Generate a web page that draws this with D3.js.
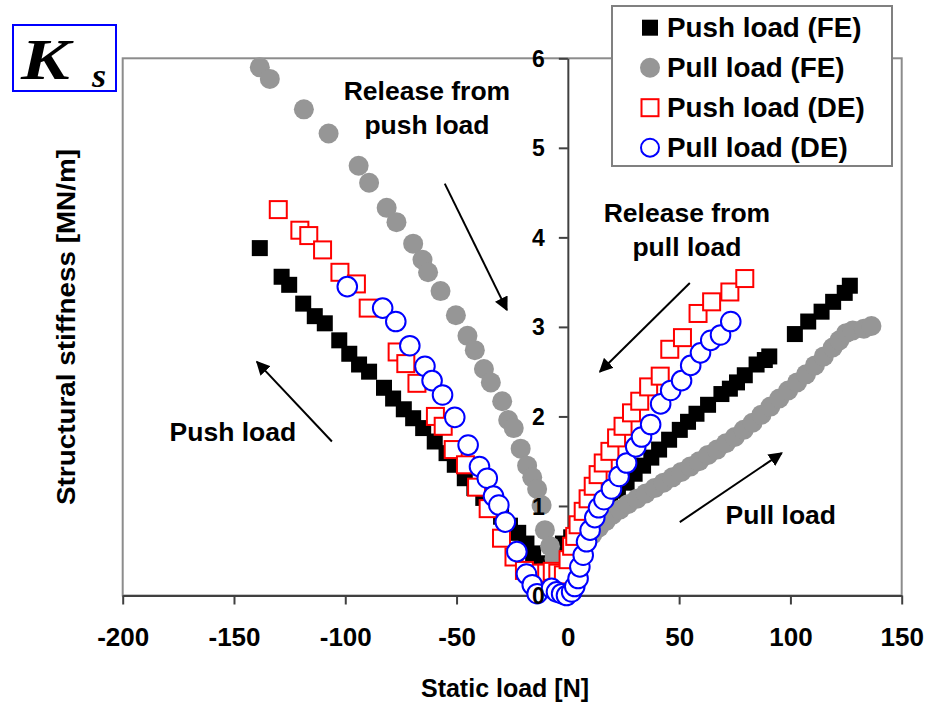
<!DOCTYPE html>
<html>
<head>
<meta charset="utf-8">
<script src="https://cdn.jsdelivr.net/npm/d3@7"></script>
<style>
  html, body { margin: 0; padding: 0; background: #fff; }
  svg { display: block; }
  text { font-family: "Liberation Sans", Arial, sans-serif; font-weight: bold; fill: #000; }
</style>
</head>
<body>
<svg id="chart" width="928" height="704"></svg>
<script>
// ---- Data: static load [N] vs structural stiffness [MN/m] ----
const seriesNames = ["Push load (FE)", "Pull load (FE)", "Push load (DE)", "Pull load (DE)"];

const pushFE_load = [-138.4, -128.6, -125.2, -118.9, -113.7, -109.2, -102.7, -98.2, -93.8, -89.3,
  -82.6, -78.5, -73.7, -69.5, -65.0, -59.8, -54.5, -50.8, -46.3, -42.0, -38.0, -34.0, -30.0, -26.0,
  -22.3, -18.6, -15.6, -12.6, -9.5, -6.5,
  -2.2, 1.5, 5.0, 8.5, 12.0, 15.5, 19.0, 22.5, 26.4, 30.0, 33.8, 37.5, 41.0, 45.5, 50.3, 54.0, 57.8,
  63.0, 69.0, 72.8, 76.0, 79.5, 84.8, 88.5, 90.5, 102.0, 108.0, 114.0, 119.2, 124.4, 126.7];
const pushFE_stiff = [3.88, 3.56, 3.47, 3.26, 3.12, 3.04, 2.85, 2.70, 2.58, 2.50,
  2.32, 2.20, 2.08, 1.98, 1.87, 1.72, 1.59, 1.46, 1.31, 1.20, 1.09, 0.98, 0.88, 0.78,
  0.70, 0.58, 0.47, 0.36, 0.28, 0.21,
  0.58, 0.65, 0.73, 0.82, 0.91, 1.00, 1.09, 1.17, 1.26, 1.36, 1.45, 1.54, 1.63, 1.74, 1.85, 1.94, 2.03,
  2.13, 2.25, 2.31, 2.38, 2.46, 2.58, 2.63, 2.67, 2.92, 3.06, 3.17, 3.28, 3.38, 3.46];

const pullFE_load = [-138.4, -133.9, -118.6, -107.5, -94.0, -89.3, -81.4, -77.0, -69.5, -65.3,
  -62.8, -57.2, -50.3, -45.1, -41.8, -37.7, -34.6, -29.5, -26.8, -24.3, -21.2, -18.3, -16.0, -13.8,
  -11.8, -10.3, -8.0, -6.0, -4.5,
  -1.5, 1.0, 3.5, 6.0, 8.5, 11.0, 14.0, 17.0, 20.0, 23.5, 27.0, 31.0, 35.0, 39.0, 43.0, 47.0, 51.0,
  55.0, 59.0, 63.0, 67.0, 71.0, 75.0, 79.0, 83.0, 87.0, 91.0, 95.0, 99.0, 103.0, 107.0, 111.0, 115.0,
  119.0, 122.0, 125.0, 128.0, 133.0, 136.4];
const pullFE_stiff = [5.90, 5.77, 5.43, 5.16, 4.80, 4.61, 4.33, 4.17, 3.93, 3.75,
  3.61, 3.40, 3.13, 2.90, 2.74, 2.53, 2.38, 2.17, 1.96, 1.87, 1.64, 1.45, 1.32, 1.19,
  1.01, 0.73, 0.55, 0.41, 0.30,
  0.30, 0.36, 0.45, 0.53, 0.61, 0.68, 0.76, 0.83, 0.90, 0.96, 1.02, 1.08, 1.14, 1.20, 1.26, 1.32, 1.38,
  1.44, 1.50, 1.57, 1.63, 1.70, 1.77, 1.85, 1.93, 2.02, 2.11, 2.20, 2.29, 2.38, 2.47, 2.57, 2.67,
  2.77, 2.85, 2.93, 2.96, 2.98, 3.01];

const pushDE_load = [-130.1, -120.4, -116.4, -110.2, -102.4, -95.0, -89.7, -76.7, -72.8, -67.8,
  -59.5, -56.0, -51.5, -46.0, -41.0, -35.8, -29.8, -24.2, -19.5, -15.0, -12.0, -9.5, -7.0, -4.5, -2.0,
  0.1, 1.7, 3.1, 4.6, 6.9, 9.1, 11.4, 13.6, 15.9, 18.9, 21.9, 24.8, 28.6, 32.3, 36.3, 41.5, 45.8,
  51.5, 58.5, 64.6, 72.8, 79.5];
const pushDE_stiff = [4.31, 4.08, 4.02, 3.86, 3.61, 3.48, 3.21, 2.72, 2.59, 2.37,
  2.00, 1.89, 1.63, 1.46, 1.21, 0.97, 0.64, 0.43, 0.28, 0.23, 0.25, 0.25, 0.27, 0.25, 0.23,
  0.40, 0.55, 0.66, 0.79, 0.94, 1.08, 1.22, 1.35, 1.48, 1.61, 1.76, 1.89, 2.04, 2.17, 2.33, 2.45, 2.75,
  2.88, 3.15, 3.28, 3.39, 3.54];

const pullDE_load = [-99.1, -83.2, -77.3, -71.0, -64.2, -61.0, -56.3, -50.8, -44.8, -39.7,
  -36.2, -33.4, -31.0, -28.1, -22.9, -18.6, -16.0, -13.8,
  -7.3, -5.1, -2.8, -0.6, 1.7, 3.1,
  4.6, 5.4, 6.9, 8.4, 10.0, 12.1, 13.8, 16.2, 19.6, 23.0, 26.4, 30.5, 33.1, 37.2, 41.7, 46.2,
  51.1, 55.2, 59.6, 64.2, 68.6, 73.2];
const pullDE_stiff = [3.45, 3.21, 3.06, 2.79, 2.56, 2.40, 2.24, 1.99, 1.68, 1.44,
  1.31, 1.11, 1.01, 0.82, 0.49, 0.24, 0.12, 0.02,
  0.08, 0.04, 0.02, 0.00, 0.04, 0.10,
  0.19, 0.32, 0.45, 0.60, 0.73, 0.87, 0.98, 1.07, 1.19, 1.33, 1.48, 1.66, 1.77, 1.91, 2.14, 2.29,
  2.40, 2.57, 2.71, 2.85, 2.91, 3.06];

const xTicks = [-200, -150, -100, -50, 0, 50, 100, 150];
const yTicks = [0, 1, 2, 3, 4, 5, 6];

// Annotation texts and arrows, in data units
const notes = [
  { lines: ["Release from", "push load"], x: -63.3, y: [5.64, 5.26] },
  { lines: ["Release from", "pull load"], x: 53.5, y: [4.28, 3.89] },
  { lines: ["Push load"], x: -150.5, y: [1.83] },
  { lines: ["Pull load"], x: 95.7, y: [0.90] }
];
const arrows = [
  { x1: -55.3, y1: 4.60, x2: -27.4, y2: 3.19 },
  { x1: 54.8, y1: 3.49, x2: 14.4, y2: 2.50 },
  { x1: -106.0, y1: 1.72, x2: -139.7, y2: 2.61 },
  { x1: 50.3, y1: 0.82, x2: 96.1, y2: 1.59 }
];

// ---- Chart ----
const svg = d3.select("#chart");
const x = d3.scaleLinear().domain([-200, 150]).range([122.7, 901.7]);
const y = d3.scaleLinear().domain([0, 6]).range([595.5, 58.3]);

const axisColor = "#404040";
const frameColor = "#8c8c8c";
const hyphenFormat = d => String(d);   // plain hyphen-minus for negative loads

// plot frame
svg.append("rect")
  .attr("x", x(-200)).attr("y", y(6))
  .attr("width", x(150) - x(-200)).attr("height", y(0) - y(6))
  .attr("fill", "none").attr("stroke", frameColor).attr("stroke-width", 2);

// axis lines and ticks (labels are drawn later on top of the markers)
const xAxisG = svg.append("g")
  .attr("transform", `translate(0,${y(0)})`)
  .call(d3.axisBottom(x).tickValues(xTicks).tickSize(9).tickSizeOuter(0).tickFormat(""));
const yAxisG = svg.append("g")
  .attr("transform", `translate(${x(0)},0)`)
  .call(d3.axisLeft(y).tickValues(yTicks).tickSize(9).tickSizeOuter(0).tickFormat(""));
[xAxisG, yAxisG].forEach(g => {
  g.selectAll("path, line").attr("stroke", axisColor).attr("stroke-width", 2);
});

const zip = (xs, ys) => xs.map((v, i) => ({ x: v, y: ys[i] }));

// Push load (FE): filled black squares
svg.append("g").selectAll("rect").data(zip(pushFE_load, pushFE_stiff)).join("rect")
  .attr("x", d => x(d.x) - 8).attr("y", d => y(d.y) - 8)
  .attr("width", 16).attr("height", 16).attr("fill", "#000");

// Pull load (FE): filled grey circles
svg.append("g").selectAll("circle").data(zip(pullFE_load, pullFE_stiff)).join("circle")
  .attr("cx", d => x(d.x)).attr("cy", d => y(d.y)).attr("r", 10).attr("fill", "#969696");

// Push load (DE): open red squares
svg.append("g").selectAll("rect").data(zip(pushDE_load, pushDE_stiff)).join("rect")
  .attr("x", d => x(d.x) - 8.5).attr("y", d => y(d.y) - 8.5)
  .attr("width", 17).attr("height", 17)
  .attr("fill", "#fff").attr("stroke", "#ff0000").attr("stroke-width", 2);

// Pull load (DE): open blue circles
svg.append("g").selectAll("circle").data(zip(pullDE_load, pullDE_stiff)).join("circle")
  .attr("cx", d => x(d.x)).attr("cy", d => y(d.y)).attr("r", 9.8)
  .attr("fill", "#fff").attr("stroke", "#0000ff").attr("stroke-width", 2);

// tick labels
svg.append("g")
  .attr("transform", `translate(0,${y(0)})`)
  .call(d3.axisBottom(x).tickValues(xTicks).tickSize(0).tickPadding(41).tickFormat(hyphenFormat))
  .call(g => g.select(".domain").remove())
  .selectAll("text").attr("font-size", 26).attr("font-family", "Liberation Sans, Arial, sans-serif")
  .attr("font-weight", "bold").attr("fill", "#000").attr("dy", "0.35em");
svg.append("g")
  .attr("transform", `translate(${x(0)},0)`)
  .call(d3.axisLeft(y).tickValues(yTicks).tickSize(0).tickPadding(23).tickFormat(hyphenFormat))
  .call(g => g.select(".domain").remove())
  .selectAll("text").attr("font-size", 23).attr("font-family", "Liberation Sans, Arial, sans-serif")
  .attr("font-weight", "bold").attr("fill", "#000").attr("dy", "0.35em");

// axis titles
svg.append("text").attr("x", 505).attr("y", 688).attr("dy", "0.35em")
  .attr("text-anchor", "middle").attr("font-size", 25).text("Static load [N]");
svg.append("text")
  .attr("transform", "translate(66,327) rotate(-90)")
  .attr("dy", "0.35em").attr("text-anchor", "middle").attr("font-size", 26.5)
  .attr("textLength", 356).attr("lengthAdjust", "spacingAndGlyphs")
  .text("Structural stiffness [MN/m]");

// annotations
const markerId = "arrowhead";
svg.append("defs").append("marker")
  .attr("id", markerId).attr("viewBox", "0 0 10 10")
  .attr("refX", 9).attr("refY", 5)
  .attr("markerWidth", 7).attr("markerHeight", 7)
  .attr("markerUnits", "strokeWidth").attr("orient", "auto")
  .append("path").attr("d", "M0,0 L10,5 L0,10 Z").attr("fill", "#000");

svg.append("g").selectAll("line").data(arrows).join("line")
  .attr("x1", d => x(d.x1)).attr("y1", d => y(d.y1))
  .attr("x2", d => x(d.x2)).attr("y2", d => y(d.y2))
  .attr("stroke", "#000").attr("stroke-width", 2)
  .attr("marker-end", `url(#${markerId})`);

notes.forEach(n => {
  n.lines.forEach((t, i) => {
    svg.append("text").attr("x", x(n.x)).attr("y", y(n.y[i])).attr("dy", "0.35em")
      .attr("text-anchor", "middle").attr("font-size", 26.5).text(t);
  });
});

// legend
const legend = svg.append("g");
legend.append("rect").attr("x", 612).attr("y", 6).attr("width", 280).attr("height", 160)
  .attr("fill", "#fff").attr("stroke", "#808080").attr("stroke-width", 2);
seriesNames.forEach((name, i) => {
  const cy = 27.7 + i * 40;
  const g = legend.append("g");
  if (i === 0) g.append("rect").attr("x", 642).attr("y", cy - 8).attr("width", 16).attr("height", 16).attr("fill", "#000");
  if (i === 1) g.append("circle").attr("cx", 650).attr("cy", cy).attr("r", 10).attr("fill", "#969696");
  if (i === 2) g.append("rect").attr("x", 641.5).attr("y", cy - 8.5).attr("width", 17).attr("height", 17)
    .attr("fill", "#fff").attr("stroke", "#ff0000").attr("stroke-width", 2);
  if (i === 3) g.append("circle").attr("cx", 650).attr("cy", cy).attr("r", 9)
    .attr("fill", "#fff").attr("stroke", "#0000ff").attr("stroke-width", 2);
  g.append("text").attr("x", 667).attr("y", cy).attr("dy", "0.35em")
    .attr("font-size", 27.8).text(name);
});

// K_s label box
const ks = svg.append("g");
ks.append("rect").attr("x", 13).attr("y", 25).attr("width", 103).attr("height", 66)
  .attr("fill", "#fff").attr("stroke", "#0000ff").attr("stroke-width", 2);
const serif = "'Liberation Serif', 'Times New Roman', serif";
ks.append("text").attr("transform", "translate(21,79) scale(1.28,1)")
  .style("font-family", serif).style("font-style", "italic").style("font-weight", "bold")
  .attr("font-size", 57).text("K");
ks.append("text").attr("transform", "translate(92,87) scale(1.1,1)")
  .style("font-family", serif).style("font-style", "italic").style("font-weight", "bold")
  .attr("font-size", 33).text("s");
</script>
</body>
</html>
